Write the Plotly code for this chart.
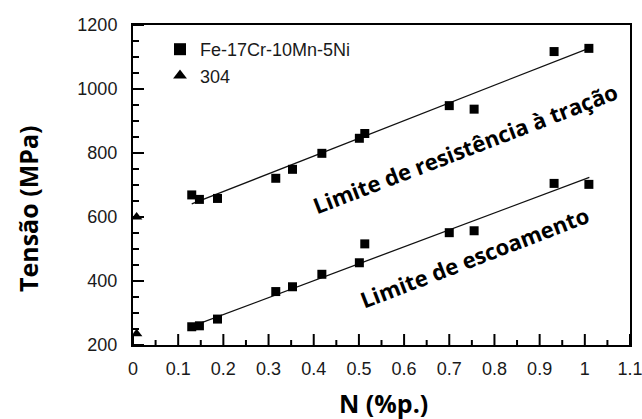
import plotly.graph_objects as go

# Data
n_fe = [0.13, 0.147, 0.187, 0.316, 0.353, 0.418, 0.501, 0.513, 0.70, 0.755, 0.932, 1.009]
uts_fe = [669, 655, 658, 721, 749, 799, 846, 861, 948, 937, 1117, 1127]
ys_fe = [257, 260, 281, 367, 382, 421, 457, 516, 551, 557, 705, 702]

n_304 = [0.008, 0.008]
s_304 = [600, 235]

fit_x = [0.13, 1.01]
uts_fit = [641, 1128]
ys_fit = [258, 724]

x_range = [0, 1.1]
y_range = [200, 1200]
x_ticks = [0, 0.1, 0.2, 0.3, 0.4, 0.5, 0.6, 0.7, 0.8, 0.9, 1.0, 1.1]
x_tick_labels = ["0", "0.1", "0.2", "0.3", "0.4", "0.5", "0.6", "0.7", "0.8", "0.9", "1", "1.1"]
x_minor_ticks = [0.05, 0.15, 0.25, 0.35, 0.45, 0.55, 0.65, 0.75, 0.85, 0.95, 1.05]
y_ticks = [200, 400, 600, 800, 1000, 1200]
y_minor_ticks = [250, 300, 350, 450, 500, 550, 650, 700, 750, 850, 900, 950, 1050, 1100, 1150]

fig = go.Figure()
fig.add_trace(go.Scatter(x=fit_x, y=uts_fit, mode="lines", line=dict(color="#111", width=1.3),
                         showlegend=False, hoverinfo="skip"))
fig.add_trace(go.Scatter(x=fit_x, y=ys_fit, mode="lines", line=dict(color="#111", width=1.3),
                         showlegend=False, hoverinfo="skip"))
fig.add_trace(go.Scatter(x=n_fe, y=uts_fe, mode="markers", name="Fe-17Cr-10Mn-5Ni",
                         marker=dict(symbol="square", size=9, color="black")))
fig.add_trace(go.Scatter(x=n_fe, y=ys_fe, mode="markers", showlegend=False,
                         marker=dict(symbol="square", size=9, color="black")))
fig.add_trace(go.Scatter(x=n_304, y=s_304, mode="markers", name="304",
                         marker=dict(symbol="triangle-up", size=10, color="black")))

tick_font = dict(family="Liberation Sans, Arial", size=18, color="#1a1a1a")

pw = 642 - 133 - 12
ph = 419 - 25 - 74


def px(xp):
    return (xp - 133) / pw


def py(yp):
    return (419 - 74 - yp) / ph


fig.update_layout(
    template="none",
    width=642, height=419,
    margin=dict(l=133, r=12, t=25, b=74),
    paper_bgcolor="white", plot_bgcolor="white",
    xaxis=dict(range=x_range, tickmode="array", tickvals=x_ticks, ticktext=x_tick_labels,
               showline=True, linecolor="black", linewidth=2, mirror=True,
               showgrid=False, zeroline=False, ticks="",
               tickfont=tick_font, ticklabelstandoff=6, ticklabeloverflow="allow"),
    yaxis=dict(range=y_range, tickmode="array", tickvals=y_ticks,
               showline=True, linecolor="black", linewidth=2, mirror=True,
               showgrid=False, zeroline=False, ticks="",
               tickfont=tick_font, ticklabelstandoff=10),
    legend=dict(x=px(160), y=py(31), xanchor="left", yanchor="top", bgcolor="rgba(0,0,0,0)",
                font=dict(family="Liberation Sans, Arial", size=18, color="#1a1a1a"),
                itemsizing="constant", tracegroupgap=0),
    showlegend=True,
)

# Inward tick marks, placed on the axis scale at the tick values (pixel lengths)
tick_line = dict(color="black", width=2)
for v, ln in [(t, 11) for t in x_ticks] + [(t, 5) for t in x_minor_ticks]:
    fig.add_shape(type="line", xref="x", yref="paper", x0=v, x1=v,
                  ysizemode="pixel", yanchor=0, y0=0, y1=ln, line=tick_line, layer="above")
for v, ln in [(t, 11) for t in y_ticks] + [(t, 6) for t in y_minor_ticks]:
    fig.add_shape(type="line", xref="paper", yref="y", y0=v, y1=v,
                  xsizemode="pixel", xanchor=0, x0=0, x1=ln, line=tick_line, layer="above")

fig.add_annotation(text="Limite de resistência à tração", x=0.735, y=816, xref="x", yref="y",
                   showarrow=False, textangle=-21, xanchor="center", yanchor="middle",
                   font=dict(family="Open Sans", size=22, color="black", weight="bold"))
fig.add_annotation(text="Limite de escoamento", x=0.755, y=475, xref="x", yref="y",
                   showarrow=False, textangle=-21, xanchor="center", yanchor="middle",
                   font=dict(family="Open Sans", size=22, color="black", weight="bold"))

fig.add_annotation(text="N (%p.)", x=px(383), y=py(403), xref="paper", yref="paper",
                   showarrow=False, xanchor="center", yanchor="middle",
                   font=dict(family="Open Sans", size=25, color="black", weight="bold"))
fig.add_annotation(text="Tensão (MPa)", x=px(28), y=py(209), xref="paper", yref="paper",
                   showarrow=False, textangle=-90, xanchor="center", yanchor="middle",
                   font=dict(family="Open Sans", size=25, color="black", weight="bold"))

fig.write_html("out.html")
